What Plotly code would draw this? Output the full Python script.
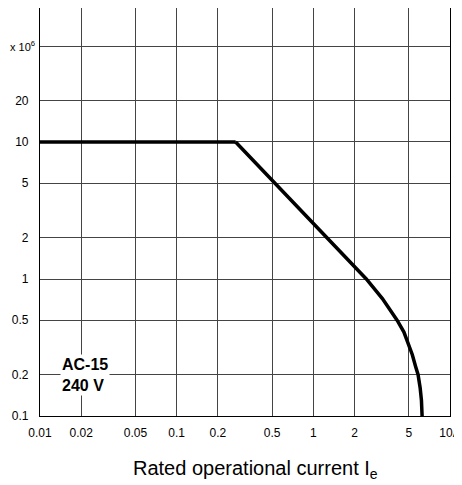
import plotly.graph_objects as go

# ------------------------------------------------------
# Data, y in units of 10^6 operations
# ------------------------------------------------------
current_flat = [0.01, 0.27]
life_flat = [10, 10]

current_falloff = [0.27, 2.0, 2.44, 3.2, 4.1, 4.6, 5.0, 5.3, 5.6, 5.84, 6.05, 6.18, 6.25]
life_falloff = [10, 1.22, 1.0, 0.72, 0.5, 0.41, 0.33, 0.28, 0.23, 0.2, 0.16, 0.13, 0.1]

x_ticks = [0.01, 0.02, 0.05, 0.1, 0.2, 0.5, 1, 2, 5, 10]
x_labels = ["0.01", "0.02", "0.05", "0.1", "0.2", "0.5", "1", "2", "5", "10A"]
y_ticks = [0.1, 0.2, 0.5, 1, 2, 5, 10, 20, 50]
y_labels = ["0.1", "0.2", "0.5", "1", "2", "5", "10", "20", ""]
unit_label = "x 10<sup>6</sup>"
x_title = "Rated operational current I<sub>e</sub>"

FONT = "Liberation Sans Narrow, Liberation Sans, Arial, sans-serif"
TITLE_FONT = "Liberation Sans, Arial, sans-serif"

fig = go.Figure()

fig.add_trace(go.Scatter(
    x=current_flat, y=life_flat, mode="lines",
    line=dict(color="black", width=3.5), showlegend=False,
))
fig.add_trace(go.Scatter(
    x=current_falloff, y=life_falloff, mode="lines",
    line=dict(color="black", width=3.5),
    showlegend=False,
))

fig.add_annotation(
    x=-1.67, y=-0.70, xref="x", yref="y",
    text="<b>AC-15<br>240 V</b>", showarrow=False, align="left",
    font=dict(family=FONT, size=16, color="black"),
    bgcolor="white",
)

# unit label sits where the top y tick label would be
fig.add_annotation(
    x=0, xref="paper", xshift=-32, xanchor="left",
    y=1.699, yref="y",
    text=unit_label, showarrow=False,
    font=dict(family=FONT, size=11, color="black"),
)

# x-axis title, set a little right of centre as in the original
fig.add_annotation(
    x=0.5, xref="paper", xshift=10,
    y=0, yref="paper", yanchor="top", yshift=-39,
    text=x_title, showarrow=False,
    font=dict(family=TITLE_FONT, size=20, color="black"),
)

axis_common = dict(
    type="log", automargin=False,
    showgrid=True, gridcolor="#444", gridwidth=1,
    showline=True, linecolor="black", linewidth=1.2, mirror=True,
    ticks="", zeroline=False,
    tickfont=dict(family=FONT, size=12, color="black"),
)

fig.update_xaxes(
    range=[-2, 1], tickvals=x_ticks, ticktext=x_labels,
    ticklabelstandoff=5,
    **axis_common,
)
fig.update_yaxes(
    range=[-1, 1.978], tickvals=y_ticks, ticktext=y_labels,
    ticklabelstandoff=8,
    **axis_common,
)

# page body adds an 8px offset, so the figure is sized to fit inside it
fig.update_layout(
    width=454, height=477,
    margin=dict(l=32, r=12, t=0, b=69),
    paper_bgcolor="white", plot_bgcolor="white",
)

fig.write_html("out.html")
